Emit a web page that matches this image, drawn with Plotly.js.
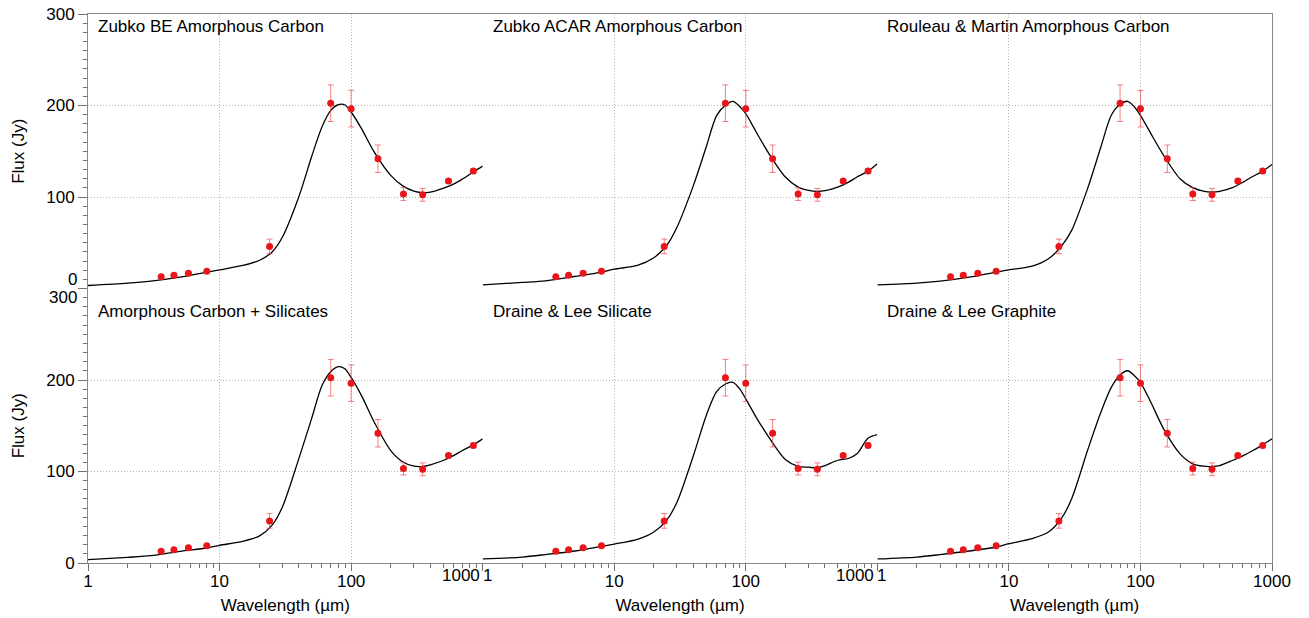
<!DOCTYPE html>
<html>
<head>
<meta charset="utf-8">
<script src="https://cdn.plot.ly/plotly-3.0.1.min.js"></script>
<style>html,body{margin:0;padding:0;background:#fff;}#chart{width:1309px;height:618px;}</style>
</head>
<body>
<div id="chart"></div>
<script>
// ---- Observed photometry (same in every panel) ----
const obsWave = [3.6, 4.5, 5.8, 8.0, 24, 70, 100, 160, 250, 350, 550, 850];
const obsFlux = [12.8, 14.5, 16.8, 18.8, 46, 202.5, 196.5, 141.8, 103.2, 102.4, 117.6, 128.5];
const obsErr  = [0, 0, 0, 0, 8, 20, 20, 15, 7, 7, 2, 2.5];

// ---- Model SEDs ----
const modelWave = [1, 2, 3, 5, 8, 10, 15, 20, 25, 30, 40, 50, 60, 70, 80, 90, 100, 120, 150, 200, 250, 300, 350, 400, 500, 600, 700, 850, 1000];
const zubkoBE   = [3.3, 5.8, 8.0, 12.4, 17.8, 20.4, 25.2, 30.6, 39.7, 56, 100, 143.7, 176.5, 194.7, 201, 200.5, 192.9, 174.7, 149, 123.6, 111.6, 106.5, 104.7, 105.4, 109.5, 114, 119.5, 127.5, 133.8];
const zubkoACAR = [4.0, 6.6, 8.4, 13.1, 17.8, 21.1, 25.2, 33.6, 47, 67, 112.7, 154.6, 189, 200.2, 204.6, 199, 191, 171, 147.3, 121.8, 110.8, 107.2, 106, 106.9, 110.8, 116, 121.8, 128.3, 136.4];
const rouleau   = [4.0, 5.8, 8.0, 12.4, 17.8, 20.4, 24.4, 32.5, 46, 63.5, 110.8, 154.6, 189.3, 201.3, 204.6, 198.4, 189.3, 169.3, 145.5, 120, 110.2, 106.5, 105.4, 106.1, 110.2, 116, 121.8, 128.3, 135.6];
const acSil     = [3.7, 6.2, 8.0, 12.8, 16.4, 19.3, 23.7, 29.4, 41.1, 61, 113.8, 157.5, 193.8, 209, 214.5, 212, 202.8, 182.9, 153.8, 122.9, 110.1, 105.8, 105.5, 107.3, 112, 117.4, 122.9, 129.1, 135.7];
const dlSil     = [4.4, 6.5, 9.2, 13.1, 18.2, 20.7, 25.8, 33.8, 46.6, 66.5, 117.4, 161, 187.2, 195.6, 197.4, 190.2, 179.3, 159.2, 137.4, 113.1, 105.5, 104.7, 104, 106.5, 112.3, 114.2, 119.4, 136.4, 140.3];
const dlGra     = [4.4, 6.5, 9.2, 13.1, 17.5, 21.1, 26.6, 33.8, 48.4, 70.2, 124.8, 164.7, 191.9, 205.5, 210.1, 204.7, 197.4, 175.6, 146.6, 119.3, 108.4, 105.8, 105.5, 106.5, 112, 117.1, 122.1, 129.1, 135.7];

const panelTitles = ["Zubko BE Amorphous Carbon", "Zubko ACAR Amorphous Carbon", "Rouleau & Martin Amorphous Carbon",
                     "Amorphous Carbon + Silicates", "Draine & Lee Silicate", "Draine & Lee Graphite"];
const panelModels = [zubkoBE, zubkoACAR, rouleau, acSil, dlSil, dlGra];

// labels hidden on the axis itself (they are drawn shifted, below)
const xHidden = [{"1000": " "}, {"1": " ", "1000": " "}, {"1": " "}];
const yHiddenTop = {"0": " "};
const yHiddenBot = {"300": " "};

const FONT = "Liberation Sans, Arial, Helvetica, sans-serif";
const GRID = "#b4b4b4";
const LINE = "#8a8a8a";
const TICK = "#707070";

const traces = [];
const layout = {
  width: 1309, height: 618,
  margin: {l: 88, r: 37, t: 14, b: 55},
  paper_bgcolor: "#fff", plot_bgcolor: "#fff",
  showlegend: false,
  font: {family: FONT, size: 17, color: "#000"},
  annotations: []
};

for (let i = 0; i < 6; i++) {
  const n = i + 1;
  const row = i < 3 ? 0 : 1;
  const col = i % 3;
  const xa = "x" + (n === 1 ? "" : n), ya = "y" + (n === 1 ? "" : n);
  traces.push({
    x: modelWave, y: panelModels[i], xaxis: xa, yaxis: ya, type: "scatter", mode: "lines",
    line: {color: "#000", width: 1.3, shape: "spline", smoothing: 0.8}, hoverinfo: "skip"
  });
  traces.push({
    x: obsWave, y: obsFlux, xaxis: xa, yaxis: ya, type: "scatter", mode: "markers",
    marker: {color: "#e8161b", size: 7},
    error_y: {type: "data", array: obsErr, visible: true, color: "rgba(238,60,60,0.65)", thickness: 1, width: 3}
  });

  const xaxis = {
    type: "log", range: [0, 3], domain: [col / 3, (col + 1) / 3], anchor: ya,
    tickmode: "linear", tick0: 0, dtick: 1, exponentformat: "none",
    showgrid: true, gridcolor: GRID, griddash: "1px,2px", gridwidth: 1, zeroline: false,
    tickfont: {family: FONT, size: 17, color: "#000"}
  };
  if (row === 1) {
    Object.assign(xaxis, {
      showline: true, linecolor: LINE, linewidth: 1, ticks: "outside", ticklen: 7, tickcolor: TICK, tickwidth: 1,
      labelalias: xHidden[col], ticklabelstandoff: -4,
      minor: {dtick: "D1", ticks: "outside", ticklen: 4, tickcolor: TICK, tickwidth: 1, showgrid: false},
      title: {text: "Wavelength (µm)", font: {family: FONT, size: 17, color: "#000"}, standoff: 8}
    });
  } else {
    Object.assign(xaxis, {side: "top", showline: true, linecolor: LINE, linewidth: 1, ticks: "", showticklabels: false});
  }
  const yaxis = {
    range: [0, 300], domain: row === 0 ? [0.5, 1] : [0, 0.5], anchor: xa,
    tickmode: "linear", tick0: 0, dtick: 100,
    showgrid: true, gridcolor: GRID, griddash: "1px,2px", gridwidth: 1, zeroline: false,
    tickfont: {family: FONT, size: 17, color: "#000"}
  };
  if (col === 0) {
    Object.assign(yaxis, {
      showline: true, linecolor: LINE, linewidth: 1, ticks: "outside", ticklen: 9, tickcolor: TICK,
      labelalias: row === 0 ? yHiddenTop : yHiddenBot,
      minor: {dtick: 10, tick0: 0, ticks: "outside", ticklen: 4, tickcolor: TICK, showgrid: false},
      title: {text: "Flux (Jy)", font: {family: FONT, size: 17, color: "#000"}, standoff: 17}
    });
  } else if (col === 2) {
    Object.assign(yaxis, {side: "right", showline: true, linecolor: LINE, linewidth: 1, ticks: "", showticklabels: false});
  } else {
    Object.assign(yaxis, {showline: false, ticks: "", showticklabels: false});
  }
  layout["xaxis" + (n === 1 ? "" : n)] = xaxis;
  layout["yaxis" + (n === 1 ? "" : n)] = yaxis;

  layout.annotations.push({
    text: panelTitles[i], showarrow: false,
    xref: xa + " domain", yref: ya + " domain", x: 0, y: 1, xanchor: "left", yanchor: "middle",
    xshift: 8, yshift: row === 0 ? -12 : -23,
    font: {family: FONT, size: 17, color: "#000"}
  });
}

// edge tick labels shifted to avoid overlapping at the shared panel borders
const lblFont = {family: FONT, size: 17, color: "#000"};
layout.annotations.push({text: "0", showarrow: false, xref: "paper", yref: "y", x: 0, y: 0, xanchor: "right", yanchor: "middle",
  xshift: -11, yshift: 9, borderpad: 0, borderwidth: 0, font: lblFont});
layout.annotations.push({text: "300", showarrow: false, xref: "paper", yref: "y4", x: 0, y: 300, xanchor: "right", yanchor: "middle",
  xshift: -11, yshift: -9, borderpad: 0, borderwidth: 0, font: lblFont});
const edgeX = [["x4", 3, "1000", "right", -3], ["x5", 0, "1", "left", 0], ["x5", 3, "1000", "right", -3], ["x6", 0, "1", "left", 0]];
edgeX.forEach(e => layout.annotations.push({text: e[2], showarrow: false, xref: e[0], yref: "paper", x: e[1], y: 0,
  xanchor: e[3], yanchor: "top", xshift: e[4], yshift: -3, borderpad: 0, borderwidth: 0, font: lblFont}));

Plotly.newPlot("chart", traces, layout, {displayModeBar: false, staticPlot: true});
</script>
</body>
</html>
